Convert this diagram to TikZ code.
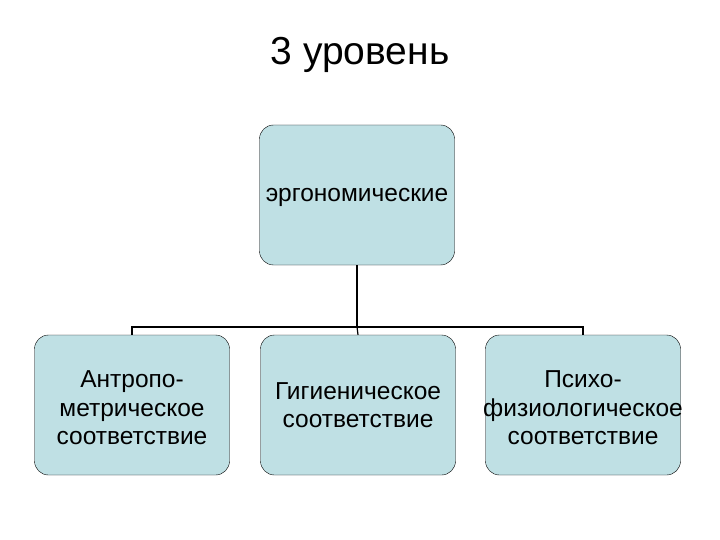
\documentclass[tikz,border=0pt]{standalone}
\usepackage{fontspec}
\setmainfont{Liberation Sans}
\begin{document}
\begin{tikzpicture}[x=1pt,y=-1pt,
  box/.style={draw=black,fill={rgb,255:red,191;green,224;blue,228},rounded corners=14pt,minimum width=195pt,minimum height=140pt,inner sep=0pt},
  lbl/.style={align=center,font=\fontsize{24.5}{28.5}\selectfont,inner sep=0pt}]
\useasboundingbox (0,0) rectangle (720,540);
\node (title) at (360,55) {\fontsize{39}{44}\selectfont 3 уровень};
\node[box] (top) at (357,195) {};
\node[box] (a) at (132,405) {};
\node[box] (b) at (358,405) {};
\node[box] (c) at (583,405) {};
\node[lbl] (ta) at (357,197) {эргономические};
\node[lbl] (la) at (132,408) {Антропо-\\метрическое\\соответствие};
\node[lbl] (lb) at (358,405) {Гигиеническое\\соответствие};
\node[lbl] (lc) at (583,408) {Психо-\\физиологическое\\соответствие};
\coordinate (j) at (357,327);
\draw[line width=2.5pt] (top.south) -- (j);
\draw[line width=1.2pt] (a.north) |- (j) -| (c.north);
\draw[line width=1.2pt] (j) -- (b.north);
\end{tikzpicture}
\end{document}
